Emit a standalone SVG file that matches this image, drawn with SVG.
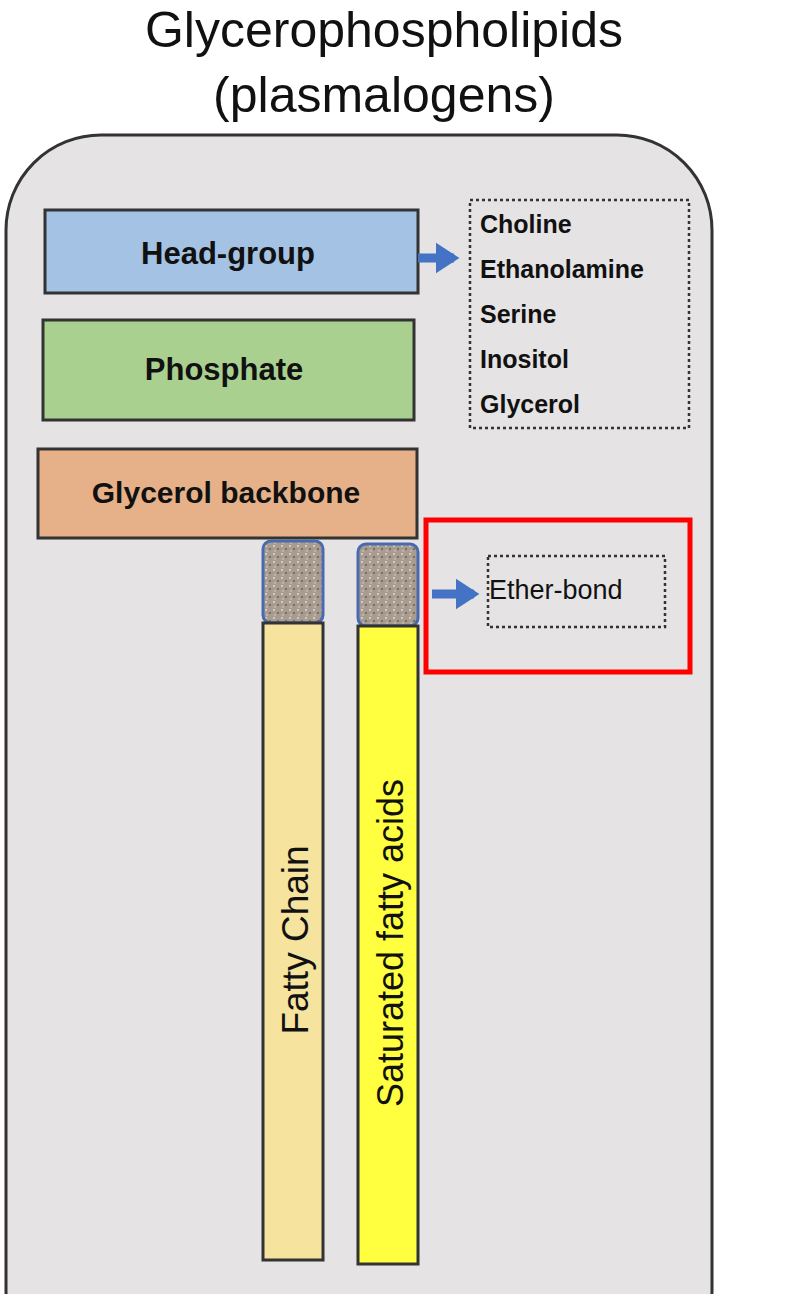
<svg xmlns="http://www.w3.org/2000/svg" width="810" height="1294" viewBox="0 0 810 1294">
<defs>
<style>
.t{font-family:"Liberation Sans",Arial,sans-serif;fill:#111}
.box{stroke:#333;stroke-width:3}
.dot{fill:none;stroke:#333;stroke-width:2.5;stroke-dasharray:3 3}
</style>
<pattern id="stone" width="8" height="8" patternUnits="userSpaceOnUse">
<rect width="8" height="8" fill="#a89c90"/>
<circle cx="2" cy="2" r="1" fill="#e0dad0"/><circle cx="6" cy="5" r="1" fill="#6a6058"/><circle cx="3" cy="7" r="0.8" fill="#d8d0c4"/>
</pattern>
<marker id="ar" markerWidth="4" markerHeight="4" refX="2" refY="2" orient="auto" markerUnits="strokeWidth"><path d="M0,0.3 L2.6,2 L0,3.7 Z" fill="#4472c4"/></marker>
</defs>
<rect width="810" height="1294" fill="#fff"/>
<text class="t" x="384" y="47" font-size="50" text-anchor="middle">Glycerophospholipids</text>
<text class="t" x="384" y="112" font-size="50" text-anchor="middle">(plasmalogens)</text>
<rect x="6" y="135" width="706" height="1250" rx="95" fill="#e5e3e4" stroke="#333" stroke-width="3"/>
<g id="headgroup"><rect class="box" x="45" y="210" width="373" height="83" fill="#a4c2e4"/><text class="t" x="228" y="264" font-size="31" font-weight="bold" text-anchor="middle" fill="#333">Head-group</text></g>
<g id="phosphate"><rect class="box" x="43" y="320" width="371" height="100" fill="#a9d08e"/><text class="t" x="224" y="380" font-size="31" font-weight="bold" text-anchor="middle">Phosphate</text></g>
<g id="glycerol"><rect class="box" x="38" y="449" width="379" height="89" fill="#e6b188"/><text class="t" x="226" y="503" font-size="30" font-weight="bold" text-anchor="middle">Glycerol backbone</text></g>
<g id="list"><rect class="dot" x="470" y="200" width="219" height="228"/>
<g class="t" font-size="25" font-weight="bold" fill="#333"><text x="480" y="233">Choline</text><text x="480" y="278">Ethanolamine</text><text x="480" y="323">Serine</text><text x="480" y="368">Inositol</text><text x="480" y="413">Glycerol</text></g></g>
<g id="fattychain"><rect x="263" y="541" width="60" height="82" rx="8" fill="url(#stone)" stroke="#4a6ab0" stroke-width="3"/><rect class="box" x="263" y="623" width="60" height="637" fill="#f5e39e"/><text class="t" transform="translate(308,940) rotate(-90)" font-size="37" text-anchor="middle">Fatty  Chain</text></g>
<g id="saturated"><rect x="358" y="544" width="60" height="82" rx="8" fill="url(#stone)" stroke="#4a6ab0" stroke-width="3"/><rect class="box" x="358" y="626" width="60" height="638" fill="#ffff40"/><text class="t" transform="translate(403,943) rotate(-90)" font-size="36" text-anchor="middle">Saturated fatty acids</text></g>
<g id="ether"><rect x="426" y="520" width="264" height="152" fill="none" stroke="#f00" stroke-width="5"/><rect class="dot" x="488" y="556" width="177" height="71"/><text class="t" x="489" y="599" font-size="27" fill="#222">Ether-bond</text></g>
<g id="connectors" stroke="#4472c4" stroke-width="9" fill="none">
<line x1="418" y1="258" x2="454" y2="258" marker-end="url(#ar)"/>
<line x1="432" y1="594" x2="474" y2="594" marker-end="url(#ar)"/>
</g>
</svg>
